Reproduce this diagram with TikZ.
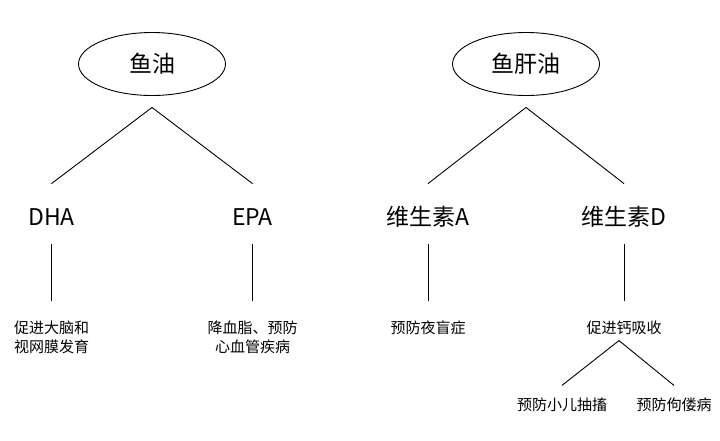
\documentclass[tikz,border=0pt]{standalone}
\usepackage{fontspec}
\setmainfont{Noto Sans CJK SC}
\usepackage{tikz}
\usetikzlibrary{shapes.geometric}

\tikzset{
    oil/.style={draw, ellipse, minimum width=147pt, minimum height=63pt, inner sep=0pt, font=\fontsize{23pt}{28pt}\selectfont},
    nutrient/.style={inner sep=0pt, text height=19.1pt, text depth=1.6pt, font=\fontsize{23pt}{28pt}\selectfont},
    effect/.style={inner sep=0pt, align=center, font=\fontsize{15pt}{19pt}\selectfont}
}

\begin{document}
\begin{tikzpicture}[x=1pt,y=-1pt,line width=0.9pt,
    level 1/.style={level distance=153pt, edge from parent path={([yshift=-11.5pt]\tikzparentnode.south) -- ([yshift=22.6pt]\tikzchildnode.north)}},
    level 2/.style={level distance=111pt, edge from parent path={([yshift=-16.6pt]\tikzparentnode.south) -- ([yshift=19.2pt]\tikzchildnode.north)}},
    level 3/.style={level distance=77pt, sibling distance=112pt, edge from parent path={([xshift=-5pt,yshift=-5.2pt]\tikzparentnode.south) -- ([yshift=12.2pt]\tikzchildnode.north)}}]
    \useasboundingbox (0,0) rectangle (720,440);

    \node[oil] (yuyou) at (152,64) {鱼油} [sibling distance=201pt]
        child { node[nutrient] (dha) {DHA}
            child[level distance=120.5pt] {node[effect] (dha-effect) {促进大脑和\\视网膜发育}}
        }
        child { node[nutrient] (epa) {EPA}
            child[level distance=120.5pt] {node[effect] (epa-effect) {降血脂、预防\\心血管疾病}}
        }
    ;

    \node[oil] (yuganyou) at (526,64) {鱼肝油} [sibling distance=196pt]
        child { node[nutrient] (vita) {维生素A}
            child {node[effect] (vita-effect) {预防夜盲症}}
        }
        child { node[nutrient] (vitd) {维生素D}
            child {node[effect] (vitd-effect) {促进钙吸收}
                child[xshift=-6pt] {node[effect] (vitd-child) {预防小儿抽搐}}
                child[xshift=-6pt] {node[effect] (vitd-rickets) {预防佝偻病}}
            }
        }
    ;
\end{tikzpicture}
\end{document}
